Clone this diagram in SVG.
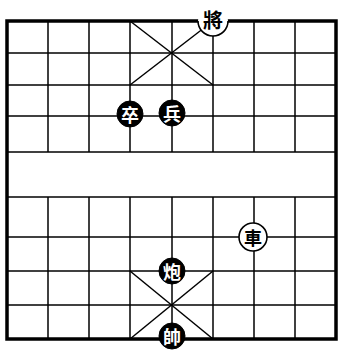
<svg xmlns="http://www.w3.org/2000/svg" width="344" height="350" viewBox="0 0 344 350">
<style>
.grid{stroke:#000;stroke-width:1.5;fill:none}
.border{stroke:#000;stroke-width:3.5;fill:none}
.blk circle{fill:#000;stroke:#000;stroke-width:1}
.blk text{fill:#fff;font-family:"Noto Sans CJK TC","Noto Sans CJK SC",sans-serif;font-weight:bold;font-size:18px;text-anchor:middle;dominant-baseline:central}
.wht circle{fill:#fff;stroke:#000;stroke-width:1.6}
.wht text{fill:#000;font-family:"Noto Sans CJK TC","Noto Sans CJK SC",sans-serif;font-weight:bold;font-size:18px;text-anchor:middle;dominant-baseline:central}
</style>
<rect width="344" height="350" fill="#fff"/>
<g id="connectors">
<g class="grid">
<line x1="7" y1="53" x2="336" y2="53"/>
<line x1="7" y1="85" x2="336" y2="85"/>
<line x1="7" y1="116" x2="336" y2="116"/>
<line x1="7" y1="152" x2="336" y2="152"/>
<line x1="7" y1="197" x2="336" y2="197"/>
<line x1="7" y1="237" x2="336" y2="237"/>
<line x1="7" y1="271" x2="336" y2="271"/>
<line x1="7" y1="305" x2="336" y2="305"/>
<line x1="48" y1="21" x2="48" y2="152"/>
<line x1="89" y1="21" x2="89" y2="152"/>
<line x1="130" y1="21" x2="130" y2="152"/>
<line x1="172" y1="21" x2="172" y2="152"/>
<line x1="213" y1="21" x2="213" y2="152"/>
<line x1="254" y1="21" x2="254" y2="152"/>
<line x1="295" y1="21" x2="295" y2="152"/>
<line x1="48" y1="197" x2="48" y2="339"/>
<line x1="89" y1="197" x2="89" y2="339"/>
<line x1="130" y1="197" x2="130" y2="339"/>
<line x1="172" y1="197" x2="172" y2="339"/>
<line x1="213" y1="197" x2="213" y2="339"/>
<line x1="254" y1="197" x2="254" y2="339"/>
<line x1="295" y1="197" x2="295" y2="339"/>
<line x1="130" y1="21" x2="213" y2="85"/>
<line x1="213" y1="21" x2="130" y2="85"/>
<line x1="130" y1="271" x2="213" y2="339"/>
<line x1="213" y1="271" x2="130" y2="339"/>
</g>
<rect class="border" x="7" y="21" width="329" height="318"/>
</g>
<g id="piece-jiang" class="wht">
<circle cx="213" cy="21" r="15" style="stroke:none"/>
<path d="M198 21 A15 15 0 0 0 228 21" fill="none" stroke="#000" stroke-width="1.6"/>
<text x="213" y="19" style="font-size:20px">將</text>
</g>
<g id="piece-zu1" class="blk">
<circle cx="130" cy="114" r="13"/>
<text x="130" y="114">卒</text>
</g>
<g id="piece-zu2" class="blk">
<circle cx="172" cy="113" r="13"/>
<text x="172" y="113">兵</text>
</g>
<g id="piece-che" class="wht">
<circle cx="253" cy="237" r="14"/>
<text x="253" y="237">車</text>
</g>
<g id="piece-pao" class="blk">
<circle cx="172" cy="271" r="13"/>
<text x="172" y="271">炮</text>
</g>
<g id="piece-shuai" class="blk">
<circle cx="172" cy="336" r="13"/>
<text x="172" y="336">帥</text>
</g>
</svg>
